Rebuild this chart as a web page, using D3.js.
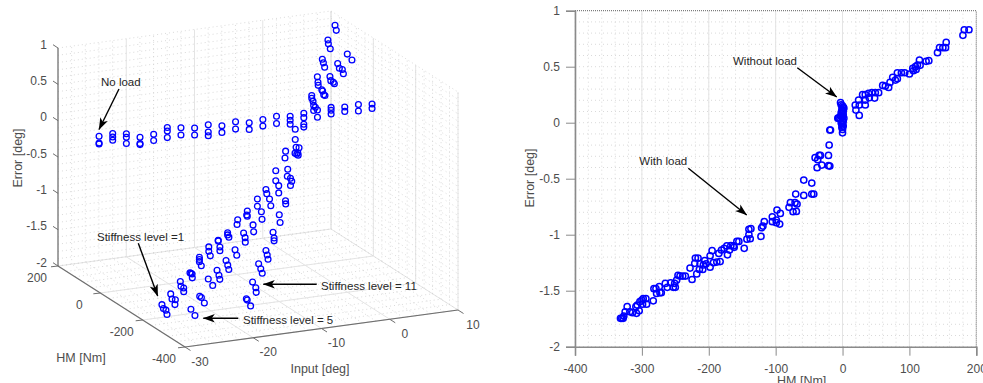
<!DOCTYPE html>
<html>
<head>
<meta charset="utf-8">
<script src="https://cdn.jsdelivr.net/npm/d3@7"></script>
<style>
  html, body { margin: 0; padding: 0; background: #fff; overflow: hidden; }
  text { font-family: "Liberation Sans", Arial, sans-serif; }
</style>
</head>
<body>
<div id="chart"></div>
<script>
// --- left panel: Input / HM / Error, one inner list per input step ---
const noLoadInput = [-30,-28,-26,-24,-22,-20,-18,-16,-14,-12,-10,-8,-6,-4,-2,0,2,4,6,8,10]
const noLoadHm = 6
const noLoadError = [
  [.146,.054,.04],[.157,.11,.065],[.13,.08,-.005],[.056,-.03,-.045],[.07,-.015],
  [.14,.09,0],[.11,.01],[.08,-.015],[.10,0,-.05],[.06,-.03],[.09,-.01],[.05,-.04],
  [.07,-.02],[.09,-.01],[.065,.01,-.045],[.08,.02,-.07,-.11],[.10,0],[.11,.07,.02],
  [.09,.03],[.10,.01],[.08,.02]
]

const level1Input = [-30,-28,-26,-24,-22,-20,-18,-16,-14,-12,-10,-8,-6,-4,-2]
const level1Hm = [
  [-291,-298,-310,-315],[-268,-274,-290,-288],[-249,-252,-265,-265],[-230,-235,-240,-241],
  [-210,-210,-210,-219],[-190,-190,-197],[-170,-170,-178,-178],[-150,-150,-156],
  [-133,-130],[-114,-111,-114],[-97,-97],[-73,-77],[-55,-55],[-37,-34],[-18,-18]
]
const level1Error = [
  [-1.62,-1.66,-1.66,-1.71],[-1.54,-1.6,-1.58,-1.65],[-1.43,-1.49,-1.49,-1.54],[-1.37,-1.37,-1.37,-1.42],
  [-1.22,-1.25,-1.28,-1.32],[-1.14,-1.2,-1.25],[-1.11,-1.12,-1.19,-1.24],[-1.07,-1.1,-1.12],
  [-.95,-1.02],[-.89,-.95,-.96],[-.78,-.88],[-.72,-.77],[-.52,-.66],[-.31,-.41],[-.07,-.21]
]

const level5Input = [-26,-24,-22,-20,-18,-16,-14,-12,-10,-8,-6,-4,-2]
const level5Hm = [
  [-299,-318],[-276,-284,-298],[-252,-273],[-229,-238,-242],[-207,-215,-220],[-185,-193],
  [-161,-168,-169],[-141,-144],[-116,-119],[-90,-96],[-69,-69],[-47,-45],[-22,-17]
]
const level5Error = [
  [-1.72,-1.77],[-1.61,-1.61,-1.66],[-1.44,-1.49],[-1.39,-1.44,-1.49],[-1.32,-1.37,-1.42],[-1.24,-1.3],
  [-1.08,-1.13,-1.19],[-1.03,-1.12],[-.92,-1.02],[-.82,-.9],[-.7,-.8],[-.54,-.64],[-.31,-.4]
]

const level11Input = [-18,-16,-14,-12,-10,-8,-6,-4,-2]
const level11Hm = [
  [-303,-307,-323],[-268,-283,-285],[-232,-242,-249],[-202,-208,-212],[-171,-176,-176],
  [-136,-140],[-101,-102],[-60,-66,-60],[-36,-30,-32,-25]
]
const level11Error = [
  [-1.67,-1.68,-1.73],[-1.53,-1.58,-1.64],[-1.37,-1.42,-1.47],[-1.27,-1.32,-1.37],[-1.1,-1.17,-1.21],
  [-.95,-1.05],[-.85,-.89],[-.64,-.67,-.74],[-.29,-.37,-.4,-.4]
]

const upperInput = [2,4,6,8,10]
const upperSteepHm = [[33,33,27,24,24],[71,68,67],[112,107,101],[150,148,139],[181,175]]
const upperSteepError = [[.25,.21,.18,.13,.06],[.41,.34,.30],[.55,.51,.46],[.72,.67,.62],[.84,.78]]
const upperFlatHm = [[16],[50,46,41,35],[76,72,60,55],[104,96,82,77],[123,101]]
const upperFlatError = [[.12],[.27,.26,.22,.22],[.38,.33,.33,.32],[.48,.43,.44,.39],[.55,.51]]

// --- right panel: HM / Error pairs ---
const mapHm = [
  180,182,189, 142,145,150,154,155, 115,125,129, 100,105,109,112,116,106,110,
  82,88,93,82,75,79,71,69,64,60,
  54,49,44,39,34,30,48,40,34,24,19,25,34,20,25,
  -3,-2,0,1,2,-1,0,1,-2,-1,1,-3,-1,0,2,-4,-6,-7,0,1,-2,-1,0,1,-1,0,0,
  -19,-18,-20,-21,-33,-35,-41,-37,-38,-31,-21,-19, -58,-46,
  -70,-58,-46,-43,-78,-80,-68,-71,-74,-69,
  -98,-93,-105,-99,-105,-94,-99, -117,-119,-121,-122,
  -137,-140,-140,-143,-138,-147,
  -155,-158,-163,-167,-162,-173,-169,-172,-177,-181,-185,-195,-198,
  -183,-188,-193,-198,-206,-208,-204,-209,-214,-213,-220,-216,-221,-228,-218,-225,
  -235,-239,-243,-246,-248,-251,-253,-250,-257,-262,-265,
  -273,-271,-274,-278,-279,-282,-283,-293,-294,-298,-300,-303,-299,
  -307,-309,-304,-308,-314,-318,-322,-325,-327,-330,-328,-332
]
const mapError = [
  .78,.83,.83, .625,.67,.67,.67,.717, .56,.548,.554, .435,.485,.5,.515,.512,.464,.476,
  .446,.446,.446,.393,.405,.381,.36,.315,.327,.333,
  .268,.268,.268,.262,.25,.25,.22,.223,.202,.202,.158,.158,.158,.113,.065,
  .18,.16,.15,.14,.13,.12,.11,.10,.09,.08,.07,.06,.05,.05,.04,.04,.04,.04,.02,.01,0,-.01,-.02,-.03,-.04,-.06,-.09,
  -.065,-.065,-.2,-.292,-.292,-.292,-.312,-.33,-.402,-.378,-.384,-.387, -.512,-.539,
  -.637,-.649,-.637,-.637,-.714,-.756,-.726,-.714,-.795,-.792,
  -.78,-.81,-.84,-.869,-.884,-.905,-.893, -.884,-.923,-.938,-1.015,
  -.946,-.952,-1,-1.04,-1.036,-1.122,
  -1.06,-1.06,-1.1,-1.098,-1.113,-1.1,-1.137,-1.18,-1.122,-1.137,-1.167,-1.143,-1.188,
  -1.24,-1.244,-1.25,-1.29,-1.232,-1.27,-1.26,-1.31,-1.31,-1.26,-1.208,-1.208,-1.256,-1.298,-1.35,-1.4,
  -1.369,-1.369,-1.369,-1.363,-1.405,-1.435,-1.47,-1.47,-1.43,-1.47,-1.435,
  -1.518,-1.518,-1.464,-1.524,-1.482,-1.482,-1.59,-1.62,-1.571,-1.571,-1.583,-1.598,-1.62,
  -1.628,-1.643,-1.679,-1.702,-1.696,-1.688,-1.643,-1.688,-1.726,-1.747,-1.747,-1.747
]

const inputTicks = [-30,-20,-10,0,10]
const hmTicks3d = [-400,-200,0,200]
const errorTicks = [-2,-1.5,-1,-0.5,0,0.5,1]
const hmTicks = [-400,-300,-200,-100,0,100,200]

const blue = '#0000ff'
const tickGray = '#4d4d4d'
const axisGray = '#6e6e6e'
const majorGray = '#e4e4e4'
const minorGray = '#d0d0d0'

let svg = d3.select('#chart').append('svg')
  .attr('width', 983)
  .attr('height', 383)

// arrow head used by every annotation
svg.append('defs').append('marker')
  .attr('id', 'head')
  .attr('viewBox', '0 0 12 10')
  .attr('refX', 11.5)
  .attr('refY', 5)
  .attr('markerWidth', 12)
  .attr('markerHeight', 10)
  .attr('markerUnits', 'userSpaceOnUse')
  .attr('orient', 'auto')
  .append('path')
  .attr('d', 'M0,0.8 L12,5 L0,9.2 L3,5 Z')
  .attr('fill', '#000')

function range(a, b, step) {
  return d3.range(0, Math.round((b - a) / step) + 1).map(i => a + i * step)
}

function seg(g, a, b, color, width, dash) {
  g.append('line')
    .attr('x1', a[0]).attr('y1', a[1])
    .attr('x2', b[0]).attr('y2', b[1])
    .attr('stroke', color)
    .attr('stroke-width', width)
    .attr('stroke-dasharray', dash || null)
}

function label(g, x, y, str, anchor, color, size) {
  return g.append('text')
    .attr('x', x).attr('y', y)
    .attr('text-anchor', anchor || 'start')
    .attr('fill', color || tickGray)
    .attr('font-size', size || 12)
    .text(str)
}

function note(x0, y0, x1, y1) {
  svg.append('line')
    .attr('x1', x0).attr('y1', y0)
    .attr('x2', x1).attr('y2', y1)
    .attr('stroke', '#000')
    .attr('stroke-width', 1.4)
    .attr('marker-end', 'url(#head)')
}

// ---------- left panel, a fixed 3d view made of linear scales ----------
const originX = 185
const originY = 347
const inputPx = d3.scaleLinear().domain([-30, 10]).range([0, 273])
const inputPy = d3.scaleLinear().domain([-30, 10]).range([0, -37])
const hmPx = d3.scaleLinear().domain([-400, 200]).range([0, -127])
const hmPy = d3.scaleLinear().domain([-400, 200]).range([0, -81])
const errorPy = d3.scaleLinear().domain([-2, 1]).range([0, -218])

function project(input, hm, err) {
  return [
    originX + inputPx(input) + hmPx(hm),
    originY + inputPy(input) + hmPy(hm) + errorPy(err)
  ]
}

let left = svg.append('g')

// minor grid first, major on top of it
range(-30, 10, 2).forEach(v => {
  let major = v % 10 === 0
  let c = major ? majorGray : minorGray
  let w = major ? 1 : 0.8
  let d = major ? null : '1 3'
  seg(left, project(v, 200, -2), project(v, 200, 1), c, w, d)
  seg(left, project(v, -400, -2), project(v, 200, -2), c, w, d)
})
range(-400, 200, 40).forEach(v => {
  seg(left, project(10, v, -2), project(10, v, 1), minorGray, 0.8, '1 3')
  seg(left, project(-30, v, -2), project(10, v, -2), minorGray, 0.8, '1 3')
})
hmTicks3d.forEach(v => {
  seg(left, project(10, v, -2), project(10, v, 1), majorGray, 1)
  seg(left, project(-30, v, -2), project(10, v, -2), majorGray, 1)
})
range(-2, 1, 0.1).forEach(v => {
  seg(left, project(-30, 200, v), project(10, 200, v), minorGray, 0.8, '1 3')
  seg(left, project(10, 200, v), project(10, -400, v), minorGray, 0.8, '1 3')
})

seg(left, project(-30, 200, -2), project(-30, 200, 1), axisGray, 1.2)
seg(left, project(-30, 200, -2), project(-30, -400, -2), axisGray, 1.2)
seg(left, project(-30, -400, -2), project(10, -400, -2), axisGray, 1.2)

errorTicks.forEach(v => {
  let p = project(-30, 200, v)
  seg(left, p, [p[0] - 5, p[1] - 3.3], axisGray, 1)
  label(left, p[0] - 11, p[1] + 0.5, String(v), 'end')
})
inputTicks.forEach(v => {
  let p = project(v, -400, -2)
  seg(left, p, [p[0] + 5.5, p[1] + 3.5], axisGray, 1)
  label(left, p[0] + 15, p[1] + 18.5, String(v), 'middle')
})
hmTicks3d.forEach(v => {
  let p = project(-30, v, -2)
  seg(left, p, [p[0] - 7, p[1] + 0.8], axisGray, 1)
  label(left, p[0] - 21, p[1] + 15.5, String(v), 'middle')
})

label(left, 320, 373, 'Input [deg]', 'middle', tickGray, 12.5)
label(left, 81, 362, 'HM [Nm]', 'middle', tickGray, 12.5)
label(left, 0, 0, 'Error [deg]', 'middle', tickGray, 12.5)
  .attr('transform', 'translate(22,158) rotate(-90)')

let points3d = []
function addGroups(inputs, hms, errors) {
  inputs.forEach((input, i) => {
    errors[i].forEach((err, j) => {
      let hm = Array.isArray(hms) ? hms[i][j] : hms
      points3d.push(project(input, hm, err))
    })
  })
}
addGroups(noLoadInput, noLoadHm, noLoadError)
addGroups(level1Input, level1Hm, level1Error)
addGroups(level5Input, level5Hm, level5Error)
addGroups(level11Input, level11Hm, level11Error)
addGroups(upperInput, upperSteepHm, upperSteepError)
addGroups(upperInput, upperFlatHm, upperFlatError)

left.selectAll('circle')
  .data(points3d)
  .enter()
  .append('circle')
  .attr('cx', d => d[0])
  .attr('cy', d => d[1])
  .attr('r', 2.9)
  .attr('fill', 'none')
  .attr('stroke', blue)
  .attr('stroke-width', 1.3)

label(svg, 101, 86, 'No load', 'start', '#262626', 11.5)
label(svg, 97, 241, 'Stiffness level =1', 'start', '#262626', 11.5)
label(svg, 321, 290, 'Stiffness level = 11', 'start', '#262626', 11.5)
label(svg, 243, 324, 'Stiffness level = 5', 'start', '#262626', 11.5)
note(119, 89, 99, 129.5)
note(138.3, 243.3, 157.7, 296)
note(316.7, 284.3, 263.3, 284.3)
note(238.3, 318.3, 203.3, 318.3)

// ---------- right panel ----------
const x = d3.scaleLinear().domain([-400, 200]).range([575, 976.3])
const y = d3.scaleLinear().domain([-2, 1]).range([346.7, 10.7])

let right = svg.append('g')

range(-400, 200, 20).forEach(v => {
  seg(right, [x(v), y(-2)], [x(v), y(1)], minorGray, 0.8, '1 3')
})
range(-2, 1, 0.1).forEach(v => {
  seg(right, [x(-400), y(v)], [x(200), y(v)], minorGray, 0.8, '1 3')
})
hmTicks.forEach(v => {
  seg(right, [x(v), y(-2)], [x(v), y(1)], majorGray, 1)
})

seg(right, [x(-400), y(1)], [x(200), y(1)], '#555', 0.9, '1 1')
seg(right, [x(200), y(-2)], [x(200), y(1)], '#777', 0.9, '1 1')

// plain hyphen in the labels, as in the original figure
let xAxis = d3.axisBottom(x).tickValues(hmTicks).tickSize(9).tickPadding(9)
  .tickFormat(d => String(d))
let yAxis = d3.axisLeft(y).tickValues(errorTicks).tickSize(9).tickPadding(6)
  .tickFormat(d => String(d))
right.append('g').attr('transform', 'translate(0,' + y(-2) + ')').call(xAxis)
right.append('g').attr('transform', 'translate(' + x(-400) + ',0)').call(yAxis)
right.selectAll('.domain').attr('stroke', '#8a8a8a').attr('stroke-width', 1.6)
right.selectAll('.tick line').attr('stroke', '#8a8a8a').attr('stroke-width', 1)
right.selectAll('.tick text')
  .attr('fill', tickGray)
  .attr('font-size', 12)
  .attr('font-family', '"Liberation Sans", Arial, sans-serif')

label(right, 801.7, 385, 'HM [Nm]', 'middle', tickGray, 12.5)
label(right, 0, 0, 'Error [deg]', 'middle', tickGray, 12.5)
  .attr('transform', 'translate(534,178) rotate(-90)')

right.append('g').selectAll('circle')
  .data(mapHm.map((h, i) => [h, mapError[i]]))
  .enter()
  .append('circle')
  .attr('cx', d => x(d[0]))
  .attr('cy', d => y(d[1]))
  .attr('r', 3.1)
  .attr('fill', 'none')
  .attr('stroke', blue)
  .attr('stroke-width', 1.5)

label(svg, 733, 65, 'Without load', 'start', '#262626', 11.5)
label(svg, 639.3, 165, 'With load', 'start', '#262626', 11.5)
note(797.3, 67.7, 836.7, 97)
note(688.3, 168.3, 746.7, 215)
</script>
</body>
</html>
